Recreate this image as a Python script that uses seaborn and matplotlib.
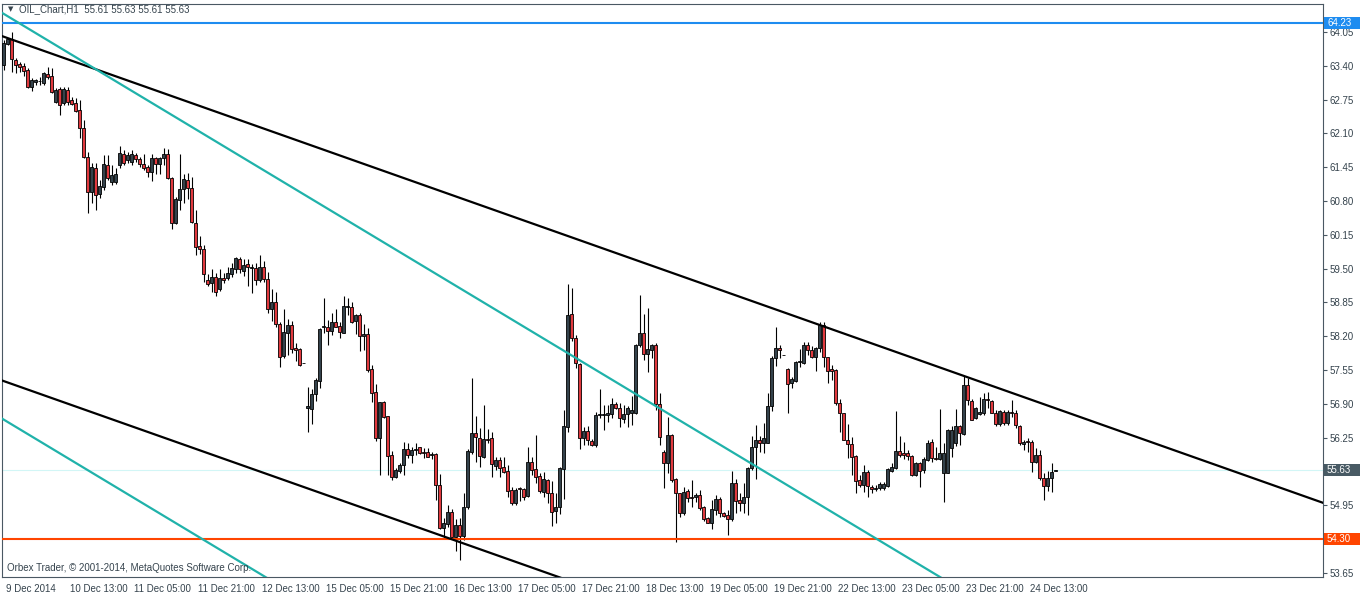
import numpy as np
import pandas as pd
import matplotlib
matplotlib.use("Agg")
import matplotlib.pyplot as plt
import matplotlib.transforms as mtransforms
from matplotlib.patches import Rectangle
import seaborn as sns

# OIL H1 candles
opens = [
    63.41, 63.82, 63.92, 63.51, 63.43, 63.40, 63.32, 62.99, 63.09, 63.10,
    63.07, 63.24, 63.20, 62.70, 62.95, 62.68, 62.93, 62.74, 62.68, 62.55,
    62.20, 61.64, 60.97, 61.43, 60.93, 61.07, 61.49, 61.16, 61.16, 61.49,
    61.70, 61.59, 61.55, 61.68, 61.61, 61.51, 61.45, 61.36, 61.63, 61.51,
    61.63, 61.70, 61.24, 60.38, 60.82, 61.03, 61.20, 61.05, 60.38, 59.93,
    59.88, 59.28, 59.22, 59.34, 59.11, 59.32, 59.32, 59.40, 59.49, 59.68,
    59.45, 59.59, 59.51, 59.51, 59.28, 59.53, 59.30, 58.72, 58.86, 58.43,
    57.82, 58.26, 58.42, 57.97, 57.95, 57.69, 56.82, 56.80, 57.09, 57.34,
    58.38, 58.38, 58.30, 58.47, 58.40, 58.26, 58.76, 58.76, 58.49, 58.61,
    58.20, 58.24, 57.57, 57.13, 56.24, 56.93, 56.67, 55.92, 55.49, 55.61,
    55.72, 56.03, 55.92, 56.01, 56.07, 55.97, 55.97, 55.92, 55.93, 55.34,
    54.51, 54.59, 54.82, 54.34, 54.57, 54.36, 54.91, 55.97, 56.34, 56.24,
    55.88, 56.22, 56.24, 55.70, 55.82, 55.68, 55.61, 55.24, 54.99, 55.28,
    55.26, 55.13, 55.78, 55.65, 55.51, 55.20, 55.43, 55.18, 54.84, 54.91,
    55.65, 56.45, 58.63, 58.17, 57.67, 56.24, 56.38, 56.18, 56.11, 56.68,
    56.68, 56.68, 56.70, 56.90, 56.82, 56.61, 56.70, 56.72, 56.72, 58.03,
    58.26, 57.86, 57.94, 58.03, 56.90, 55.97, 55.76, 56.30, 55.45, 55.18,
    54.80, 55.22, 55.11, 55.11, 55.15, 54.91, 54.70, 54.61, 54.86, 55.07,
    54.80, 54.76, 54.68, 55.38, 55.05, 54.99, 55.11, 55.67, 56.07, 56.20,
    56.15, 56.15, 56.86, 57.78, 57.97, 57.84, 57.57, 57.30, 57.34, 57.70,
    57.69, 58.03, 57.94, 57.80, 57.97, 58.42, 57.80, 57.57, 57.55, 56.91,
    56.72, 56.20, 56.13, 55.90, 55.43, 55.34, 55.59, 55.30, 55.26, 55.28,
    55.28, 55.32, 55.61, 55.67, 55.99, 55.95, 55.95, 55.90, 55.53, 55.76,
    55.63, 55.82, 56.17, 55.86, 55.84, 55.57, 55.57, 56.05, 56.15, 56.47,
    56.32, 57.26, 56.95, 56.63, 56.70, 56.72, 56.99, 56.95, 56.72, 56.51,
    56.74, 56.53, 56.74, 56.72, 56.47, 56.13, 56.18, 56.17, 55.78, 55.92,
    55.47, 55.32, 55.47, 55.61,
]
highs = [
    63.90, 63.93, 64.05, 63.55, 63.47, 63.45, 63.36, 63.17, 63.15, 63.18,
    63.28, 63.38, 63.36, 62.97, 62.99, 62.99, 62.99, 62.80, 62.78, 62.74,
    62.36, 61.74, 61.53, 61.53, 61.20, 61.68, 61.68, 61.49, 61.43, 61.86,
    61.78, 61.74, 61.78, 61.72, 61.64, 61.70, 61.49, 61.70, 61.64, 61.64,
    61.82, 61.80, 61.26, 60.88, 61.70, 61.32, 61.34, 61.26, 60.63, 60.13,
    59.95, 59.40, 59.49, 59.42, 59.49, 59.42, 59.53, 59.61, 59.72, 59.72,
    59.68, 59.68, 59.59, 59.61, 59.76, 59.65, 59.43, 59.11, 59.05, 58.47,
    58.72, 58.53, 58.49, 58.07, 57.97, 57.69, 57.22, 57.18, 57.40, 58.36,
    58.93, 58.51, 58.65, 58.72, 58.47, 58.97, 58.93, 58.86, 58.63, 58.65,
    58.43, 58.36, 57.65, 57.28, 56.93, 56.95, 56.67, 55.99, 55.67, 55.76,
    56.17, 56.15, 56.07, 56.15, 56.07, 56.05, 56.05, 55.97, 55.95, 55.55,
    54.70, 54.95, 54.88, 54.68, 54.70, 55.18, 56.03, 57.40, 56.67, 56.43,
    56.88, 56.42, 56.36, 55.88, 55.88, 55.88, 55.72, 55.30, 55.28, 55.30,
    55.28, 56.07, 55.88, 56.30, 55.57, 55.59, 55.45, 55.42, 55.18, 55.68,
    56.78, 59.20, 59.13, 58.22, 57.69, 56.45, 56.47, 56.22, 56.74, 57.18,
    56.88, 56.88, 57.01, 56.93, 56.91, 56.88, 56.86, 57.05, 58.05, 58.99,
    58.63, 58.74, 58.05, 58.07, 57.11, 56.01, 56.65, 56.32, 55.47, 55.18,
    55.30, 55.26, 55.43, 55.18, 55.24, 54.93, 54.72, 55.05, 55.15, 55.11,
    54.82, 54.86, 55.61, 55.45, 55.18, 55.38, 55.68, 56.28, 56.49, 56.28,
    56.53, 57.11, 57.82, 58.38, 58.03, 57.84, 57.59, 57.42, 57.72, 57.95,
    58.09, 58.09, 58.01, 57.99, 58.47, 58.47, 57.80, 57.65, 57.57, 56.99,
    56.72, 56.51, 56.26, 55.92, 55.53, 55.72, 55.63, 55.34, 55.34, 55.40,
    55.40, 55.67, 55.76, 56.76, 56.28, 56.17, 56.01, 55.92, 55.78, 55.78,
    55.88, 56.20, 56.22, 56.07, 56.80, 56.15, 56.42, 56.47, 56.80, 56.49,
    57.43, 57.40, 56.99, 56.84, 57.03, 57.11, 57.13, 56.97, 56.78, 56.78,
    56.78, 56.78, 56.97, 56.78, 56.49, 56.20, 56.24, 56.20, 56.05, 56.01,
    55.57, 55.61, 55.76, 55.63,
]
lows = [
    63.32, 63.80, 63.28, 63.26, 63.28, 63.20, 62.97, 62.92, 63.03, 63.03,
    63.03, 63.15, 62.88, 62.68, 62.45, 62.65, 62.65, 62.65, 62.51, 62.01,
    61.63, 60.57, 60.76, 60.63, 60.86, 61.01, 61.20, 61.11, 61.13, 61.43,
    61.49, 61.53, 61.49, 61.55, 61.45, 61.40, 61.26, 61.18, 61.32, 61.32,
    61.49, 61.22, 60.26, 60.36, 60.63, 60.76, 60.84, 60.38, 59.76, 59.78,
    59.24, 59.17, 59.05, 58.97, 59.07, 59.22, 59.28, 59.34, 59.42, 59.42,
    59.36, 59.17, 59.03, 59.19, 59.24, 59.24, 58.65, 58.49, 58.38, 57.61,
    57.78, 57.84, 57.88, 57.72, 57.63, 57.69, 56.36, 56.51, 56.95, 57.20,
    58.26, 58.03, 58.22, 58.38, 58.17, 58.26, 58.61, 58.45, 58.24, 57.92,
    57.94, 57.51, 56.93, 56.18, 55.53, 56.63, 55.53, 55.43, 55.47, 55.57,
    55.53, 55.86, 55.76, 55.92, 55.93, 55.86, 55.88, 55.84, 55.05, 54.49,
    54.32, 54.53, 54.32, 54.07, 53.90, 54.28, 54.88, 55.93, 55.78, 55.68,
    55.86, 56.15, 55.49, 55.63, 55.49, 55.57, 55.11, 54.95, 54.95, 55.03,
    55.05, 55.11, 55.53, 55.38, 55.18, 55.11, 54.99, 54.55, 54.61, 54.78,
    55.07, 56.36, 58.11, 57.59, 56.03, 56.11, 56.11, 56.09, 56.07, 56.63,
    56.40, 56.55, 56.63, 56.80, 56.45, 56.53, 56.45, 56.49, 56.70, 57.99,
    57.74, 57.51, 57.78, 56.78, 56.11, 55.28, 55.57, 55.40, 54.24, 54.72,
    54.76, 55.01, 54.91, 55.01, 54.86, 54.65, 54.61, 54.49, 54.76, 54.72,
    54.72, 54.38, 54.65, 54.80, 54.84, 54.80, 54.76, 55.63, 55.45, 55.97,
    55.95, 56.15, 56.76, 57.63, 57.78, 57.84, 56.72, 57.20, 57.32, 57.61,
    57.67, 57.84, 57.78, 57.53, 57.90, 57.61, 57.30, 57.36, 56.88, 56.36,
    56.20, 55.86, 55.53, 55.18, 55.30, 55.20, 55.11, 55.18, 55.22, 55.24,
    55.24, 55.30, 55.59, 55.65, 55.88, 55.84, 55.82, 55.51, 55.51, 55.30,
    55.57, 55.80, 55.78, 55.82, 55.82, 55.01, 55.57, 55.88, 56.09, 56.11,
    56.30, 56.88, 56.59, 56.61, 56.68, 56.68, 56.82, 56.72, 56.47, 56.47,
    56.49, 56.49, 56.65, 56.43, 56.11, 56.01, 55.97, 55.59, 55.76, 55.43,
    55.05, 55.22, 55.20, 55.61,
]
closes = [
    63.84, 63.92, 63.53, 63.41, 63.38, 63.30, 62.99, 63.13, 63.13, 63.11,
    63.26, 63.18, 62.90, 62.93, 62.65, 62.95, 62.70, 62.67, 62.53, 62.20,
    61.64, 60.97, 61.45, 60.92, 61.09, 61.51, 61.24, 61.30, 61.32, 61.72,
    61.53, 61.68, 61.70, 61.61, 61.51, 61.43, 61.36, 61.63, 61.51, 61.63,
    61.70, 61.24, 60.38, 60.84, 61.03, 61.22, 61.05, 60.40, 59.92, 59.88,
    59.40, 59.20, 59.34, 59.05, 59.32, 59.28, 59.42, 59.51, 59.70, 59.49,
    59.57, 59.53, 59.53, 59.28, 59.53, 59.30, 58.72, 58.86, 58.43, 57.80,
    58.28, 58.42, 57.95, 57.94, 57.65, 57.69, 56.86, 57.09, 57.36, 58.34,
    58.40, 58.30, 58.47, 58.38, 58.28, 58.78, 58.78, 58.47, 58.61, 58.20,
    58.24, 57.55, 57.11, 56.24, 56.93, 56.65, 55.90, 55.49, 55.63, 55.72,
    56.03, 55.92, 56.01, 56.03, 55.95, 55.95, 55.88, 55.93, 55.34, 54.51,
    54.61, 54.82, 54.34, 54.57, 54.36, 54.91, 55.99, 56.34, 56.26, 55.90,
    56.22, 56.20, 55.74, 55.82, 55.67, 55.59, 55.22, 54.99, 55.24, 55.26,
    55.11, 55.78, 55.63, 55.49, 55.22, 55.45, 55.18, 54.82, 54.91, 55.67,
    56.47, 58.61, 58.17, 57.69, 56.24, 56.38, 56.20, 56.11, 56.68, 56.70,
    56.70, 56.72, 56.90, 56.82, 56.63, 56.70, 56.82, 56.78, 58.03, 58.26,
    57.86, 57.95, 58.03, 56.90, 56.26, 55.76, 56.30, 55.43, 55.18, 54.80,
    55.20, 55.09, 55.09, 55.15, 54.90, 54.68, 54.61, 54.88, 55.07, 54.80,
    54.74, 54.68, 55.38, 55.03, 54.99, 55.11, 55.67, 56.07, 56.20, 56.15,
    56.24, 56.86, 57.78, 57.97, 57.94, 57.84, 57.28, 57.38, 57.70, 57.72,
    58.03, 57.94, 57.80, 57.97, 58.42, 57.80, 57.53, 57.53, 56.91, 56.72,
    56.20, 56.13, 55.88, 55.42, 55.34, 55.59, 55.32, 55.26, 55.28, 55.36,
    55.36, 55.65, 55.68, 55.99, 55.92, 55.92, 55.90, 55.53, 55.76, 55.61,
    55.84, 56.15, 55.86, 55.84, 55.95, 55.95, 56.40, 56.40, 56.47, 56.34,
    57.26, 56.97, 56.59, 56.82, 56.74, 56.99, 56.97, 56.72, 56.51, 56.76,
    56.53, 56.74, 56.72, 56.49, 56.15, 56.17, 56.17, 55.78, 55.92, 55.47,
    55.32, 55.47, 55.59, 55.63,
]

time_labels = ["9 Dec 2014", "10 Dec 13:00", "11 Dec 05:00", "11 Dec 21:00",
               "12 Dec 13:00", "15 Dec 05:00", "15 Dec 21:00", "16 Dec 13:00",
               "17 Dec 05:00", "17 Dec 21:00", "18 Dec 13:00", "19 Dec 05:00",
               "19 Dec 21:00", "22 Dec 13:00", "23 Dec 05:00", "23 Dec 21:00",
               "24 Dec 13:00"]
bars_per_label = 16

price_ticks = [64.05, 63.40, 62.75, 62.10, 61.45, 60.80, 60.15, 59.50, 58.85,
               58.20, 57.55, 56.90, 56.25, 55.60, 54.95, 54.30, 53.65]
# scale labels that sit under the price boxes are not shown
hidden_ticks = [55.60, 54.30]

level_top = 64.23
level_bottom = 54.30
bid_price = 55.63

# trend lines: (bar_a, price_a, bar_b, price_b), drawn as rays
black_lines = [(0, 63.96, 300, 55.81), (0, 57.34, 100, 54.625)]
teal_lines = [(0, 64.40, 200, 55.15), (0, 56.60, 60, 53.825)]

bull_color = "#34424b"
bear_color = "#e0393e"
frame_color = "#4a5863"
text_color = "#35434d"

sns.set_theme(style="white")
plt.rcParams["font.family"] = ["Liberation Sans", "DejaVu Sans"]

W, H = 1362, 594
fig = plt.figure(figsize=(W / 100, H / 100), dpi=100)
ax = fig.add_axes([2 / W, 17 / H, 1321 / W, 573 / H])

df = pd.DataFrame({"open": opens, "high": highs, "low": lows, "close": closes})
df["bar"] = np.arange(len(df))
df["high"] = df[["high", "open", "close"]].max(axis=1)
df["low"] = df[["low", "open", "close"]].min(axis=1)
up = df["close"] >= df["open"]

# wicks and bodies
ax.vlines(df["bar"], df["low"], df["high"], color="black", lw=0.8, zorder=2)
ax.bar(df["bar"][up], (df["close"] - df["open"])[up], bottom=df["open"][up],
       width=0.72, color=bull_color, edgecolor="black", linewidth=0.6, zorder=3)
ax.bar(df["bar"][~up], (df["open"] - df["close"])[~up], bottom=df["close"][~up],
       width=0.72, color=bear_color, edgecolor="black", linewidth=0.6, zorder=3)

xmin, xmax = -0.4, 329.85
ax.set_xlim(xmin, xmax)
ax.set_ylim(53.573, 64.588)

# horizontal levels
ax.axhline(bid_price, color="#d2f6f6", lw=0.8, zorder=1)
ax.axhline(level_top, color="#1e8cf0", lw=1.5, zorder=4)
ax.axhline(level_bottom, color="#ff4500", lw=1.5, zorder=4)

# trend lines
def ray(line):
    xa, pa, xb, pb = line
    slope = (pb - pa) / (xb - xa)
    xs = np.array([xmin - 1, xmax + 1])
    return xs, pa + slope * (xs - xa)

for line in black_lines:
    xs, ys = ray(line)
    sns.lineplot(x=xs, y=ys, ax=ax, color="black", lw=1.6, zorder=4)
for line in teal_lines:
    xs, ys = ray(line)
    sns.lineplot(x=xs, y=ys, ax=ax, color="#20b2aa", lw=1.6, zorder=4)

# axes styling
for sp in ax.spines.values():
    sp.set_color(frame_color)
    sp.set_linewidth(0.8)
ax.yaxis.tick_right()
ax.set_yticks(price_ticks)
ax.set_yticklabels(["" if p in hidden_ticks else f"{p:.2f}" for p in price_ticks])
ax.set_xticks([i * bars_per_label for i in range(len(time_labels))])
ax.set_xticklabels(time_labels)
ax.tick_params(axis="both", which="major", length=3, width=0.8, color=frame_color,
               labelsize=7, labelcolor=text_color, pad=2, direction="out")
ax.tick_params(axis="x", length=4, pad=1)
offset = mtransforms.ScaledTranslation(2 / 100, 0, fig.dpi_scale_trans)
for lab in ax.get_xticklabels():
    lab.set_horizontalalignment("left")
    lab.set_transform(lab.get_transform() + offset)
ax.grid(False)
ax.set_xlabel("")
ax.set_ylabel("")

# price boxes on the right scale
blend = mtransforms.blended_transform_factory(fig.transFigure, ax.transData)
box_h = 12 / 52.02
for price, fc in [(level_top, "#1e8cf0"), (bid_price, "#485a64"), (level_bottom, "#ff4500")]:
    ax.add_artist(Rectangle((1324 / W, price - box_h / 2), 36 / W, box_h,
                            transform=blend, facecolor=fc, edgecolor="none",
                            clip_on=False, zorder=6))
    ax.text(1327 / W, price, f"{price:.2f}", transform=blend, color="white",
            fontsize=7, ha="left", va="center", clip_on=False, zorder=7)

# header and footer texts
fig.text(8 / W, 1 - 9 / H, "\u25bc", fontsize=5, color=text_color, va="center",
         ha="left", family=["DejaVu Sans"])
fig.text(19 / W, 1 - 9 / H, "OIL_Chart,H1  55.61 55.63 55.61 55.63", fontsize=7,
         color=text_color, va="center", ha="left")
fig.text(7 / W, 1 - 568 / H, "Orbex Trader, \u00a9 2001-2014, MetaQuotes Software Corp.",
         fontsize=7, color=text_color, va="center", ha="left")

fig.savefig("out.png", dpi=100, facecolor="white")
